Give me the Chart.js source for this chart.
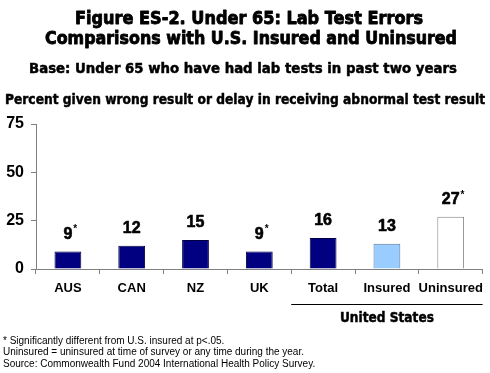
<!DOCTYPE html>
<html>
<head>
<meta charset="utf-8">
<script src="https://cdn.jsdelivr.net/npm/chart.js@4"></script>
<style>
  body { margin: 0; background: #ffffff; }
  #wrap { width: 490px; height: 373px; }
</style>
</head>
<body>
<div id="wrap"><canvas id="grafico" width="490" height="373"></canvas></div>
<script>
const categorias = ["AUS", "CAN", "NZ", "UK", "Total", "Insured", "Uninsured"];
const valores = [9, 12, 15, 9, 16, 13, 27];
const asteriscos = [true, false, false, true, false, false, true];
const ticksY = [0, 25, 50, 75];

const colores = ["#000080", "#000080", "#000080", "#000080", "#000080", "#99ccff", "#ffffff"];
const bordes = ["#000040", "#000040", "#000040", "#000040", "#000040", "#5a7a99", "#808080"];

const titulo = ["Figure ES-2. Under 65: Lab Test Errors", "Comparisons with U.S. Insured and Uninsured"];
const subtitulo = "Base: Under 65 who have had lab tests in past two years";
const tituloEje = "Percent given wrong result or delay in receiving abnormal test result";
const grupoUS = "United States";
const notas = [
  "* Significantly different from U.S. insured at p<.05.",
  "Uninsured = uninsured at time of survey or any time during the year.",
  "Source: Commonwealth Fund 2004 International Health Policy Survey.",
];

// texto que se ajusta al ancho (comprime si es más ancho); grosor extra con trazo
function texto(ctx, t, x, y, font, align, ancho, grosor) {
  ctx.font = font;
  ctx.textAlign = align;
  ctx.textBaseline = "middle";
  if (grosor) {
    ctx.lineWidth = grosor;
    ctx.lineJoin = "round";
    ctx.strokeStyle = "#000000";
    ctx.strokeText(t, x, y, ancho);
  }
  ctx.fillText(t, x, y, ancho);
}

const textos = {
  id: "textos",
  afterDraw(chart) {
    const ctx = chart.ctx;
    const x = chart.scales.x;
    const y = chart.scales.y;
    ctx.save();
    ctx.fillStyle = "#000000";

    texto(ctx, titulo[0], 249, 19, "bold 18px 'DejaVu Sans'", "center", 348, 0.9);
    texto(ctx, titulo[1], 251, 39, "bold 18px 'DejaVu Sans'", "center", 412, 0.9);
    texto(ctx, subtitulo, 243, 69, "bold 14px 'DejaVu Sans'", "center", 428, 0.5);
    texto(ctx, tituloEje, 5, 100, "bold 14px 'DejaVu Sans'", "left", 480, 0.5);

    // etiquetas de valores
    valores.forEach((v, i) => {
      const cx = x.getPixelForValue(i);
      const cy = y.getPixelForValue(v) - 17;
      texto(ctx, String(v), cx, cy, "bold 16px 'Liberation Sans'", "center", undefined, 0.6);
      if (asteriscos[i]) {
        ctx.font = "bold 16px 'Liberation Sans'";
        const w = ctx.measureText(String(v)).width;
        texto(ctx, "*", cx + w / 2 + 1, cy - 5, "bold 10px 'Liberation Sans'", "left");
      }
    });

    // grupo Estados Unidos
    const x0 = (x.getPixelForValue(3) + x.getPixelForValue(4)) / 2;
    const x1 = chart.chartArea.right;
    ctx.strokeStyle = "#000000";
    ctx.lineWidth = 1;
    ctx.beginPath();
    ctx.moveTo(x0, 304.5);
    ctx.lineTo(x1, 304.5);
    ctx.stroke();
    texto(ctx, grupoUS, (x0 + x1) / 2, 318, "bold 14px 'DejaVu Sans'", "center", 94, 0.5);

    notas.forEach((n, i) => {
      texto(ctx, n, 3, 341 + i * 11.5, "10px 'Liberation Sans'", "left");
    });
    ctx.restore();
  },
};

new Chart(document.getElementById("grafico"), {
  type: "bar",
  data: {
    labels: categorias,
    datasets: [
      {
        data: valores,
        backgroundColor: colores,
        borderColor: bordes,
        borderWidth: 1,
        barPercentage: 0.42,
        categoryPercentage: 1,
      },
    ],
  },
  options: {
    responsive: false,
    animation: false,
    layout: { padding: { top: 124, right: 2, left: 0, bottom: 0 } },
    plugins: {
      legend: { display: false },
      tooltip: { enabled: false },
    },
    scales: {
      x: {
        grid: {
          offset: true,
          drawOnChartArea: false,
          color: "#808080",
          tickLength: 5,
        },
        border: { color: "#808080" },
        ticks: {
          color: "#000000",
          padding: 7,
          maxRotation: 0,
          minRotation: 0,
          autoSkip: false,
          font: { family: "'Liberation Sans'", weight: "bold", size: 13 },
        },
        afterFit(scale) {
          scale.height = 104;
        },
      },
      y: {
        min: 0,
        max: 75,
        afterBuildTicks(scale) {
          scale.ticks = ticksY.map((v) => ({ value: v }));
        },
        grid: {
          drawOnChartArea: false,
          color: "#808080",
          tickLength: 5,
        },
        border: { color: "#808080" },
        ticks: {
          color: "#000000",
          padding: 7,
          font: { family: "'Liberation Sans'", weight: "bold", size: 16 },
        },
        afterFit(scale) {
          scale.width = 36;
        },
      },
    },
  },
  plugins: [textos],
});
</script>
</body>
</html>
